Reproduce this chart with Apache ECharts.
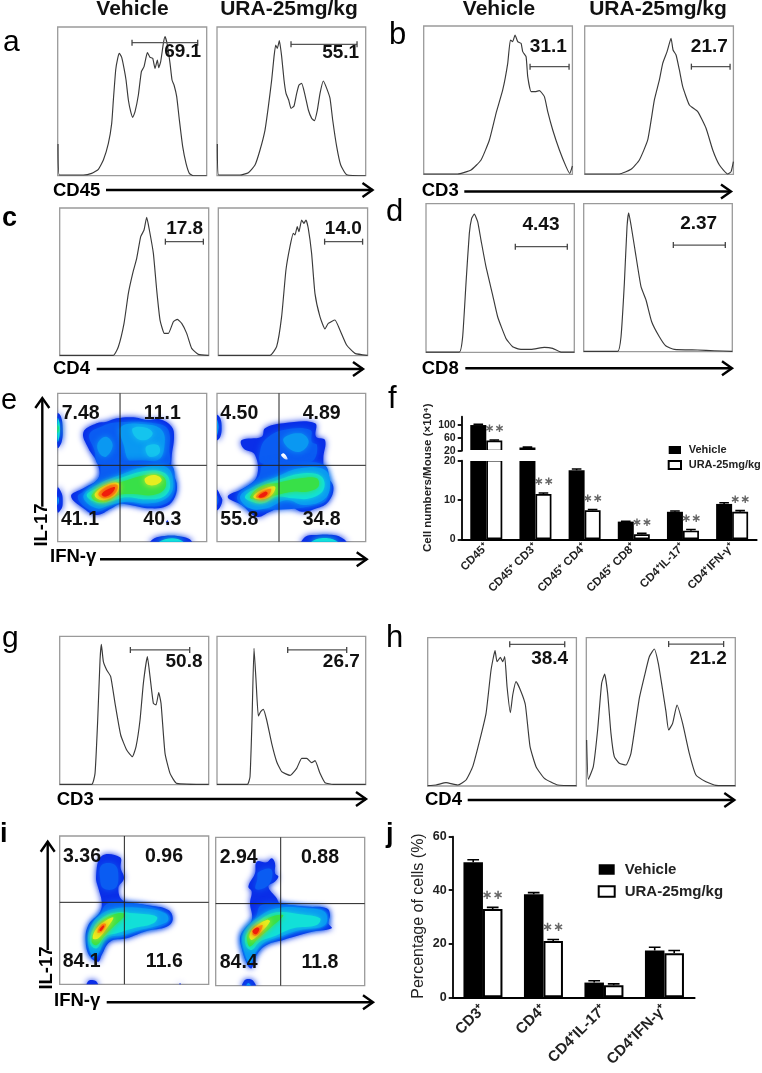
<!DOCTYPE html>
<html><head><meta charset="utf-8">
<style>html,body{margin:0;padding:0;background:#fff}#c{width:762px;height:1073px;filter:blur(0.3px)}</style>
<script src="https://cdn.jsdelivr.net/npm/echarts@6/dist/echarts.min.js"></script>
</head><body><div id="c"></div>
<script>
// ---------- histogram curves: [channel, count] ----------
const histA1=[[1,95],[5,2],[77,2],[102,7],[122,19],[137,47],[152,97],[162,157],[167,227],[174,317],[180,352],[185,367],[192,355],[199,322],[205,287],[212,227],[219,192],[225,175],[232,192],[242,242],[251,312],[259,327],[269,369],[277,355],[285,352],[292,322],[299,347],[303,324],[309,342],[317,397],[322,417],[329,392],[337,337],[343,287],[349,272],[357,237],[365,167],[375,87],[385,37],[395,7],[407,0],[447,0]];
const histA2=[[1,95],[5,2],[69,2],[94,9],[114,32],[129,77],[144,137],[154,207],[164,287],[171,357],[176,392],[181,382],[187,405],[194,357],[201,287],[207,247],[215,227],[222,202],[231,209],[239,247],[246,272],[254,277],[264,242],[274,197],[284,172],[292,165],[301,197],[309,247],[319,284],[329,262],[339,232],[347,167],[359,87],[371,32],[389,3],[446,0]];
const histB1=[[0,1],[102,1],[142,13],[172,43],[197,103],[217,183],[237,253],[252,333],[260,403],[267,398],[274,418],[282,398],[292,393],[297,368],[307,353],[312,293],[322,248],[334,248],[347,251],[362,233],[372,188],[387,133],[407,73],[427,23],[438,3],[446,25]];
const histB2=[[0,1],[104,1],[139,15],[164,43],[189,103],[209,223],[224,283],[234,333],[247,368],[259,408],[265,373],[274,358],[284,313],[294,263],[314,208],[339,188],[364,138],[384,73],[404,28],[429,1],[439,8],[446,38]];
const histC1=[[0,1],[161,1],[176,27],[193,97],[206,187],[219,247],[231,292],[243,357],[253,377],[261,415],[269,377],[281,307],[291,197],[301,107],[314,67],[326,67],[341,102],[353,109],[366,97],[381,67],[396,22],[416,4],[447,1]];
const histC2=[[0,1],[155,1],[175,27],[190,117],[203,257],[215,327],[225,367],[230,362],[237,387],[242,372],[250,407],[257,397],[263,407],[270,382],[280,307],[290,187],[305,117],[320,80],[330,97],[350,107],[365,77],[385,32],[410,7],[448,1]];
const histD1=[[0,1],[100,1],[110,47],[120,207],[130,357],[137,402],[145,415],[155,392],[165,337],[180,257],[200,172],[215,107],[240,42],[260,17],[280,10],[315,9],[355,15],[380,12],[405,1],[445,1]];
const histD2=[[0,1],[102,1],[112,45],[122,205],[130,375],[135,417],[142,380],[154,305],[172,195],[187,155],[204,90],[227,45],[247,17],[272,7],[342,5],[392,3],[446,1]];
const histG1=[[0,1],[96,1],[106,34],[114,194],[121,374],[125,421],[131,369],[141,344],[153,324],[166,244],[183,149],[201,104],[218,84],[229,114],[241,194],[251,304],[263,384],[271,324],[281,244],[289,239],[297,276],[304,244],[316,94],[331,34],[351,4],[447,1]];
const histG2=[[0,1],[91,1],[99,24],[105,194],[111,409],[117,314],[124,206],[131,219],[139,226],[149,194],[164,124],[179,69],[194,39],[219,28],[239,49],[254,79],[269,79],[284,66],[294,72],[309,34],[324,6],[349,1],[446,1]];
const histH1=[[0,1],[25,3],[55,10],[90,3],[115,18],[135,58],[155,133],[175,218],[190,348],[202,406],[208,373],[218,386],[225,373],[231,388],[238,298],[248,220],[255,273],[265,313],[280,283],[293,243],[307,118],[325,58],[350,23],[390,3],[446,1]];
const histH2=[[1,138],[6,20],[21,58],[34,168],[46,308],[55,336],[64,278],[74,158],[84,88],[99,68],[119,63],[134,98],[159,263],[174,328],[189,388],[204,411],[216,368],[229,288],[239,223],[247,168],[259,188],[272,243],[289,188],[309,98],[329,33],[359,13],[389,2],[447,1]];

// ---------- gates: [from, to, height] ----------
const gateA1=[223,420,399], gateA2=[222,420,394];
const gateB1=[319,436,323], gateB2=[320,436,323];
const gateC1=[317,431,342], gateC2=[319,433,342];
const gateD1=[268,424,317], gateD2=[269,425,320];
const gateG1=[212,390,404], gateG2=[212,389,404];
const gateH1=[246,411,425], gateH2=[247,412,426];

// ---------- quadrant gates: [x, y] ----------
const quadE1=[187,229], quadE2=[186,229], quadI1=[194,246], quadI2=[195,246];

// ---------- density contours: [level, outline] ----------
const densE1=[
[0,[[0,385],[10,375],[15,340],[12,300],[0,282]]],[3,[[0,370],[6,355],[6,320],[0,300]]],[4,[[0,350],[3,340],[0,325]]],
[0,[[0,162],[12,145],[15,120],[12,100],[0,88]]],[2,[[0,135],[4,125],[0,110]]],
[0,[[277,-6],[290,10],[320,17],[360,17],[395,8],[402,-6]]],[3,[[300,-6],[325,8],[360,8],[380,-6]]],
[0,[[77,328],[117,355],[147,360],[177,370],[227,373],[267,365],[307,367],[342,345],[349,315],[342,255],[342,215],[357,175],[352,135],[327,107],[277,100],[217,110],[187,113],[162,100],[117,80],[77,100],[40,137],[77,160],[122,190],[119,235],[92,280]]],
[1,[[95,322],[130,345],[180,358],[300,354],[332,335],[335,275],[330,232],[125,232],[110,275]]],
[2,[[120,295],[145,315],[165,290],[145,255],[125,265]]],
[2,[[190,345],[260,352],[312,335],[320,285],[300,245],[220,240],[198,290]]],
[9,[[225,340],[265,342],[285,325],[265,305],[235,312]]],[9,[[265,285],[300,290],[305,265],[275,255]]],
[1,[[60,135],[80,152],[125,195],[135,232],[335,232],[352,175],[345,135],[320,112],[277,106],[217,117],[187,120],[160,108],[118,90],[80,105]]],
[2,[[77,135],[117,170],[187,200],[257,223],[327,223],[347,175],[332,135],[277,115],[207,120],[157,110],[117,100]]],
[3,[[87,140],[127,165],[187,190],[267,213],[322,205],[337,165],[317,135],[267,127],[202,133],[157,120],[117,117]]],
[4,[[102,140],[137,167],[192,180],[267,200],[317,195],[322,160],[287,140],[227,143],[182,140],[147,120],[112,123]]],
[5,[[112,145],[147,170],[182,175],[177,145],[142,125],[117,130]]],[5,[[262,190],[292,200],[312,185],[292,170],[267,173]]],
[6,[[122,143],[152,167],[179,170],[172,145],[142,130]]],[7,[[132,143],[157,160],[172,163],[162,145],[142,135]]],
[0,[[325,58],[330,64],[332,56]]]];
const densE2=[
[0,[[0,380],[10,370],[14,340],[10,315],[0,305]]],[2,[[0,365],[5,345],[0,320]]],
[0,[[0,155],[12,135],[16,125],[10,105],[0,95]]],[1,[[0,140],[5,125],[0,110]]],
[0,[[254,-6],[265,15],[290,20],[350,20],[380,8],[389,-6]]],[3,[[280,-6],[300,8],[345,8],[365,-6]]],
[0,[[74,305],[134,315],[144,340],[199,355],[294,355],[297,315],[324,305],[319,250],[324,205],[349,165],[334,120],[299,100],[254,90],[209,110],[159,90],[119,75],[74,110],[32,135],[79,160],[119,195],[114,260],[79,280]]],
[1,[[149,310],[199,335],[280,335],[284,300],[300,290],[290,245],[249,235],[134,235],[130,275]]],
[2,[[200,310],[250,325],[275,300],[250,270],[215,280]]],
[8,[[192,260],[200,265],[212,248],[205,247]]],
[1,[[125,195],[140,232],[318,232],[335,170],[315,115],[100,100],[60,135]]],
[2,[[69,135],[109,165],[179,195],[249,220],[324,215],[339,165],[319,125],[259,110],[209,125],[149,100],[99,100]]],
[3,[[84,135],[119,160],[184,185],[259,205],[314,195],[319,155],[279,130],[229,130],[179,135],[139,115],[104,120]]],
[4,[[99,135],[134,167],[184,177],[249,190],[299,190],[304,165],[269,150],[229,150],[179,140],[139,127],[109,127]]],
[5,[[109,135],[139,157],[174,165],[164,140],[134,127]]],
[6,[[117,135],[140,152],[162,158],[155,140],[135,130]]],[7,[[124,135],[144,150],[152,145],[139,133]]]];
const densI1=[
[0,[[81,-6],[86,10],[98,13],[111,8],[114,-6]]],[0,[[358,-3],[361,4],[364,-3]]],
[0,[[126,385],[181,381],[183,348],[193,318],[176,288],[191,250],[261,238],[326,223],[339,193],[321,173],[261,160],[201,138],[151,128],[126,88],[116,68],[91,83],[78,128],[86,178],[121,218],[126,248],[116,288],[109,323]]],
[1,[[126,358],[166,358],[176,318],[166,288],[131,288],[121,318]]],
[1,[[86,118],[91,168],[121,208],[140,240],[190,246],[261,236],[322,213],[332,193],[301,172],[241,160],[191,143],[141,133],[116,88],[101,78]]],
[2,[[86,118],[91,168],[121,208],[171,228],[251,228],[316,213],[326,193],[301,178],[241,163],[191,148],[141,138],[116,93],[101,83]]],
[3,[[91,123],[99,163],[126,198],[171,216],[221,213],[291,203],[281,183],[221,168],[171,153],[136,143],[111,108]]],
[4,[[96,128],[106,163],[131,193],[176,213],[196,208],[161,173],[136,148],[111,118]]],
[5,[[99,138],[111,168],[141,193],[161,200],[141,168],[116,138]]],
[6,[[113,156],[126,180],[139,180],[126,158]]],[7,[[119,163],[129,176],[134,175],[124,160]]]];
const densI2=[
[0,[[80,-6],[85,14],[98,20],[113,14],[120,-6]]],[2,[[90,-6],[98,8],[108,-6]]],
[0,[[123,372],[153,370],[168,382],[178,367],[178,337],[188,327],[178,312],[158,297],[183,262],[193,247],[273,237],[333,232],[343,212],[338,187],[348,172],[293,162],[203,137],[153,122],[123,92],[108,52],[98,57],[78,112],[75,152],[108,197],[103,247],[108,282],[98,297],[118,337]]],
[1,[[128,340],[165,350],[168,320],[150,295],[120,290],[125,320]]],
[1,[[80,110],[80,160],[120,205],[135,240],[190,245],[273,234],[330,222],[332,180],[253,163],[193,142],[143,122],[118,92],[103,60]]],
[2,[[83,112],[83,157],[123,202],[183,232],[273,232],[328,220],[328,182],[253,167],[193,147],[143,127],[118,97],[103,67]]],
[3,[[90,122],[93,157],[133,197],[183,220],[253,214],[313,202],[303,182],[233,172],[173,147],[133,132],[108,107]]],
[4,[[95,132],[98,157],[133,187],[178,210],[203,210],[163,172],[128,142],[103,117]]],
[5,[[101,147],[113,172],[153,197],[163,192],[133,157],[108,137]]],
[6,[[110,155],[122,172],[140,182],[138,170],[122,150]]],[7,[[110,162],[123,174],[131,170],[121,154]]]];

// ---------- bar charts ----------
const catsF=['CD45⁺','CD45⁺ CD3⁺','CD45⁺ CD4⁺','CD45⁺ CD8⁺','CD4⁺IL-17⁺','CD4⁺IFN-γ⁺'];
const vehF=[100,30,17.6,4.5,7,9];
const uraF=[52,11.5,7.4,1.3,2.2,7];
const vehFerr=[2,1,0.3,0.1,0.2,0.3];
const uraFerr=[1.5,0.3,0.2,0.2,0.3,0.3];
const starsF=[true,true,true,true,true,true];
const catsJ=['CD3⁺','CD4⁺','CD4⁺IL-17⁺','CD4⁺IFN-γ⁺'];
const vehJ=[50.5,38.5,5.5,17.5];
const uraJ=[33,21,4.5,16.5];
const vehJerr=[0.9,0.6,0.7,1.2];
const uraJerr=[0.6,0.6,0.5,1];
const starsJ=[true,true,false,false];

// ---------- layout & style ----------
const LVL=['#0a2ee8','#0a5cf2','#0a98f2','#12e0d8','#38e048','#e6ee20','#fa9010','#f01c0c','#ffffff','#14c4ee'];
const FF='"Liberation Sans",Arial,sans-serif';
const grids=[],xAxes=[],yAxes=[],series=[],graphic=[];
function panel(r){
  const i=grids.length;
  grids.push({left:r[0],top:r[1],width:r[2],height:r[3],show:true,borderColor:'#9a9a9a',borderWidth:1.3,backgroundColor:'#fff'});
  const hid={show:false,type:'value',gridIndex:i};
  xAxes.push({...hid,min:0,max:Math.round(r[2]*3),splitLine:{show:false}});
  yAxes.push({...hid,min:0,max:Math.round(r[3]*3),splitLine:{show:false}});
  return i;
}
function curve(i,d){series.push({type:'line',xAxisIndex:i,yAxisIndex:i,data:d,symbol:'none',z:3,clip:true,smooth:0.15,lineStyle:{color:'#3a3a3a',width:1.15}});}
function gate(i,g){series.push({type:'line',xAxisIndex:i,yAxisIndex:i,data:[[g[0],g[2]],[g[1],g[2]]],symbol:'rect',symbolSize:[1.3,6],z:4,itemStyle:{color:'#444'},lineStyle:{color:'#555',width:1.3}});}
function dens(i,list){
  series.push({type:'custom',xAxisIndex:i,yAxisIndex:i,clip:true,z:2,data:list.map((_,k)=>[k]),encode:{x:0},
    renderItem:(p,api)=>{const e=list[p.dataIndex],c=LVL[e[0]];
      return {type:'polygon',shape:{points:e[1].map(q=>api.coord(q)),smooth:0.4},
        style:{fill:c,shadowBlur:e[0]==8?0:6,shadowColor:c}};}});
}
function quad(i,q,r){
  const xm=Math.round(r[2]*3),ym=Math.round(r[3]*3);
  const st={type:'line',xAxisIndex:i,yAxisIndex:i,symbol:'none',z:5,lineStyle:{color:'#222',width:1}};
  series.push({...st,data:[[q[0],0],[q[0],ym]]},{...st,data:[[0,q[1]],[xm,q[1]]]});
}
function txt(s,x,y,o={}){const size=o.size||19;graphic.push({type:'text',z:100,x,y:o.v==='bottom'?y+0.19*size:y,rotation:o.rot||0,style:{text:s,x:0,y:0,fill:o.fill||'#111',font:(o.w||'bold')+' '+size+'px '+FF,textAlign:o.a||'center',textVerticalAlign:o.v||'middle'}});}
function arrowH(x1,x2,y){graphic.push({type:'polyline',z:100,shape:{points:[[x1,y],[x2,y]]},style:{stroke:'#000',lineWidth:2.4,fill:null}},{type:'polyline',z:100,shape:{points:[[x2-10,y-7],[x2,y],[x2-10,y+7]]},style:{stroke:'#000',lineWidth:2.4,fill:null}});}
function arrowV(x,y1,y2){graphic.push({type:'polyline',z:100,shape:{points:[[x,y1],[x,y2]]},style:{stroke:'#000',lineWidth:2.4,fill:null}},{type:'polyline',z:100,shape:{points:[[x-7,y2+10],[x,y2],[x+7,y2+10]]},style:{stroke:'#000',lineWidth:2.4,fill:null}});}

const histPanels=[
 [[57.7,27,149,148.7],histA1,gateA1,'69.1',182.7,51.7],
 [[217,27,148.7,148.7],histA2,gateA2,'55.1',340.7,53],
 [[423.7,26,148.7,148.3],histB1,gateB1,'31.1',548.3,46.7],
 [[584.7,26,148.7,148.3],histB2,gateB2,'21.7',709.3,46.7],
 [[59.7,208,149,147.7],histC1,gateC1,'17.8',184.7,228.3],
 [[218.3,208,149.3,147.7],histC2,gateC2,'14.0',343.3,228.3],
 [[426,203.7,148.3,148.7],histD1,gateD1,'4.43',541,225],
 [[583.7,203.7,148.6,148],histD2,gateD2,'2.37',698.7,224],
 [[59.7,636.3,149,148.4],histG1,gateG1,'50.8',184,661.7],
 [[217,636.3,148.7,148.4],histG2,gateG2,'26.7',341.3,661.7],
 [[427.7,637.7,148.7,148.3],histH1,gateH1,'38.4',549.7,658.3],
 [[586.3,637.7,149,148.3],histH2,gateH2,'21.2',708.3,658.3]];
histPanels.forEach(h=>{const i=panel(h[0]);curve(i,h[1]);gate(i,h[2]);txt(h[3],h[4],h[5]);});

const densPanels=[
 [[57.7,393.3,149,148.4],densE1,quadE1,[['7.48',80.7,413.3],['11.1',162.3,413.3],['41.1',80,519.3],['40.3',162.3,519.3]]],
 [[217,393.3,148.7,148.4],densE2,quadE2,[['4.50',239.3,413.3],['4.89',321.7,413.3],['55.8',239.3,519.3],['34.8',321.7,519.3]]],
 [[59.7,836,149,148.3],densI1,quadI1,[['3.36',82,856.7],['0.96',164,856.7],['84.1',81.7,961.7],['11.6',164.3,961.7]]],
 [[215.7,837.3,149,148.3],densI2,quadI2,[['2.94',238.7,857.7],['0.88',320,857.7],['84.4',238.7,962.3],['11.8',320,962.3]]]];
densPanels.forEach(d=>{const i=panel(d[0]);dens(i,d[1]);quad(i,d[2],d[0]);d[3].forEach(t=>txt(t[0],t[1],t[2],{size:19.5}));});

// titles
[['Vehicle',132.5],['URA-25mg/kg',289],['Vehicle',499],['URA-25mg/kg',658]].forEach(t=>txt(t[0],t[1],16,{size:21,v:'bottom'}));
// panel letters
[['a',3,52,30,'normal'],['b',389,45,31,'normal'],['c',2,227,27,'bold'],['d',386,222,31,'normal'],['e',1,410,29,'normal'],['f',388,409,31,'normal'],['g',2,648,30,'normal'],['h',386,648,31,'normal'],['i',0,843,27,'bold'],['j',386,843,27,'bold']]
 .forEach(t=>txt(t[0],t[1],t[2],{a:'left',v:'bottom',size:t[3],w:t[4],fill:'#000'}));
// axis captions & arrows
[['CD45',53,197],['CD3',421.7,197],['CD4',53,374.5],['CD8',421.7,374.5],['IFN-γ',50,563],['CD3',56.7,805.5],['CD4',425,806],['IFN-γ',54,1007]]
 .forEach(t=>txt(t[0],t[1],t[2],{a:'left',v:'bottom',size:18.5,fill:'#000'}));
txt('IL-17',42,525,{rot:Math.PI/2,size:18.5,fill:'#000'});
txt('IL-17',47,968,{rot:Math.PI/2,size:18.5,fill:'#000'});
arrowH(106,372.5,190);arrowH(464.3,731,191.5);arrowH(96.7,363,369);arrowH(465.3,732,368.3);
arrowH(100,366.7,559.3);arrowH(99,366,799);arrowH(467.7,734.3,800);arrowH(106.7,373,1002.3);
arrowV(42.3,506.7,398);arrowV(47.7,950,841.7);

// ---------- bars ----------
function barAxis(i,cfg){
  grids.push({left:cfg.left,top:cfg.top,width:cfg.width,height:cfg.height});
  const ax={color:'#000',width:cfg.lw};
  xAxes.push({gridIndex:i,type:'category',data:cfg.cats,show:cfg.showX,boundaryGap:true,
    axisLine:{lineStyle:ax,onZero:false},axisTick:{alignWithLabel:true,length:4,lineStyle:ax},
    axisLabel:{rotate:45,interval:0,margin:cfg.lm,fontFamily:FF,fontWeight:'bold',fontSize:cfg.xfs,color:'#222'}});
  yAxes.push({gridIndex:i,type:'value',min:cfg.min,max:cfg.max,interval:cfg.int,splitLine:{show:false},
    axisLine:{show:true,lineStyle:ax,onZero:false},axisTick:{show:true,length:4,lineStyle:ax,customValues:cfg.ticks},
    axisLabel:{margin:6,fontFamily:FF,fontWeight:'bold',fontSize:cfg.yfs,color:'#222',customValues:cfg.ticks}});
}
function bars(i,veh,ura,vErr,uErr,stars,w,sFs,lowCut,highCut){
  const vd=veh.map(v=>v>=lowCut?v:null), ud=ura.map(v=>v>=lowCut?v:null);
  series.push({name:'Vehicle',type:'bar',xAxisIndex:i,yAxisIndex:i,data:vd,barWidth:w,barGap:'0%',z:3,itemStyle:{color:'#000',borderColor:'#000',borderWidth:0}});
  series.push({name:'URA-25mg/kg',type:'bar',xAxisIndex:i,yAxisIndex:i,data:ud,barWidth:w,barGap:'0%',z:3,itemStyle:{color:'#fff',borderColor:'#000',borderWidth:w>17?2:1.7}});
  const err=(vals,errs,off)=>series.push({type:'custom',xAxisIndex:i,yAxisIndex:i,clip:true,z:2,
    data:vals.map((v,k)=>[k,v,errs[k]]).filter(d=>d[1]>=lowCut&&d[1]<=highCut),encode:{x:0,y:1},
    renderItem:(p,api)=>{const a=api.coord([api.value(0),api.value(1)]),b=api.coord([api.value(0),api.value(1)+api.value(2)]),x=a[0]+off*w/2;
      return {type:'group',children:[
        {type:'line',shape:{x1:x,y1:a[1],x2:x,y2:b[1]},style:{stroke:'#000',lineWidth:1.6}},
        {type:'line',shape:{x1:x-w*0.3,y1:b[1],x2:x+w*0.3,y2:b[1]},style:{stroke:'#000',lineWidth:1.6}}]};}});
  err(veh,vErr,-1);err(ura,uErr,1);
  series.push({type:'custom',xAxisIndex:i,yAxisIndex:i,z:6,
    data:ura.map((v,k)=>[k,v,uErr[k]]).filter(d=>stars[d[0]]&&d[1]>=lowCut&&d[1]<=highCut),encode:{x:0,y:1},
    renderItem:(p,api)=>{const b=api.coord([api.value(0),api.value(1)+api.value(2)]);
      return {type:'text',x:b[0]+w/2,y:b[1]-5,style:{text:'∗∗',fill:'#666',font:'bold '+sFs+'px "DejaVu Sans"',textAlign:'center',textVerticalAlign:'bottom'}};}});
}
// f lower
let gi=grids.length;
barAxis(gi,{left:461.7,top:460.7,width:295,height:78.6,cats:catsF,showX:true,lw:1.8,min:0,max:20,int:10,lm:6,xfs:11.5,yfs:10.5});
bars(gi,vehF,uraF,vehFerr,uraFerr,starsF,16,12,0,20);
// f upper
gi=grids.length;
barAxis(gi,{left:461.7,top:416.7,width:295,height:34,cats:catsF,showX:false,lw:1.8,min:20,max:126,int:40,ticks:[20,60,100],lm:8,xfs:11.5,yfs:10.5});
bars(gi,vehF,uraF,vehFerr,uraFerr,starsF,16,12,20,126);
// white band of the broken axis: hides the clipped bar edges
graphic.push({type:'rect',z:50,shape:{x:465,y:450,width:75,height:11},style:{fill:'#fff'}});
// j
gi=grids.length;
barAxis(gi,{left:452.7,top:836.7,width:242,height:160.6,cats:catsJ,showX:true,lw:1.8,min:0,max:60,int:20,lm:10,xfs:15,yfs:12.5});
bars(gi,vehJ,uraJ,vehJerr,uraJerr,starsJ,19.5,13,0,60);

txt('Cell numbers/Mouse (×10⁴)',428,477.7,{rot:Math.PI/2,size:11.5,fill:'#222'});
txt('Percentage of cells (%)',418.7,916,{rot:Math.PI/2,size:16,w:'normal',fill:'#222'});

const legendNames=['Vehicle','URA-25mg/kg'];
const option={animation:false,backgroundColor:'#fff',grid:grids,xAxis:xAxes,yAxis:yAxes,series,graphic,
 legend:[
  {data:legendNames,orient:'vertical',padding:0,left:667.7,top:444.5,itemWidth:12.3,itemHeight:8,itemGap:4,icon:'rect',selectedMode:false,textStyle:{fontFamily:FF,fontWeight:'bold',fontSize:11,color:'#222',padding:[0,0,0,2.7]}},
  {data:legendNames,orient:'vertical',padding:0,left:597.7,top:862,itemWidth:16,itemHeight:10.5,itemGap:7,icon:'rect',selectedMode:false,textStyle:{fontFamily:FF,fontWeight:'bold',fontSize:15,color:'#222',padding:[0,0,0,5]}}
 ]};
echarts.init(document.getElementById('c'),null,{renderer:'canvas'}).setOption(option);
</script></body></html>
